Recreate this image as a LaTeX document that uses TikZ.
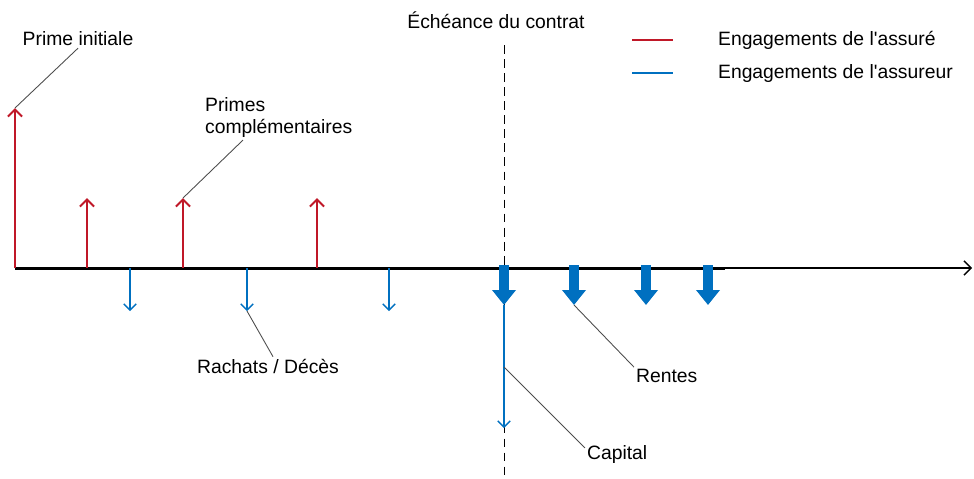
\documentclass[tikz,border=0pt]{standalone}
\usepackage{fontspec}
\setmainfont{Liberation Sans}[Ligatures=TeXOff]
\usetikzlibrary{arrows.meta,positioning}
\definecolor{assurered}{RGB}{192,24,40}
\definecolor{assureurblue}{RGB}{0,112,192}
\tikzset{
  lbl/.style={font=\fontsize{11}{13}\selectfont, inner sep=1pt},
  prime/.style={draw=assurered, line width=1.2pt, -{Straight Barb[length=4pt,width=8pt]}},
  rachat/.style={draw=assureurblue, line width=0.8pt, -{Straight Barb[length=3.5pt,width=7pt]}},
  rente/.style={draw=assureurblue, line width=0.2cm, -{Triangle[width=0.46cm,length=0.3cm]}},
  leader/.style={draw=black!70, line width=0.5pt}
}

\begin{document}
\begin{tikzpicture}[x=0.02cm, y=-0.02cm]
  \useasboundingbox (0,0) rectangle (974,478);
  % axe du temps
  \coordinate (o) at (15,268);
  \coordinate (mid) at (725,268);
  \coordinate (fin) at (972,268);
  \coordinate (dtop) at (504,45);
  \coordinate (dbot) at (504,478);
  \draw[dashed, dash pattern=on 5pt off 3pt, line width=0.5pt] (dtop) -- (dbot);
  \draw[line width=1.7pt] (o) -- (mid);
  \draw[line width=0.8pt, -{Straight Barb[length=4pt,width=8pt]}] (mid) -- (fin);

  % primes
  \coordinate (p0) at (15,268);   \coordinate (q0) at (15,108);
  \coordinate (p1) at (87,268);   \coordinate (q1) at (87,198);
  \coordinate (p2) at (183,268);  \coordinate (q2) at (183,198);
  \coordinate (p3) at (317,268);  \coordinate (q3) at (317,198);
  \draw[prime] (p0) -- (q0);
  \draw[prime] (p1) -- (q1);
  \draw[prime] (p2) -- (q2);
  \draw[prime] (p3) -- (q3);

  % rachats
  \coordinate (r1) at (130,268);  \coordinate (s1) at (130,311);
  \coordinate (r2) at (247,268);  \coordinate (s2) at (247,311);
  \coordinate (r3) at (389,268);  \coordinate (s3) at (389,311);
  \draw[rachat] (r1) -- (s1);
  \draw[rachat] (r2) -- (s2);
  \draw[rachat] (r3) -- (s3);

  % rentes et capital
  \coordinate (c0) at (504,265);  \coordinate (d0) at (504,305);
  \coordinate (c1) at (574,265);  \coordinate (d1) at (574,305);
  \coordinate (c2) at (646,265);  \coordinate (d2) at (646,305);
  \coordinate (c3) at (708,265);  \coordinate (d3) at (708,305);
  \coordinate (cap) at (504,428);
  \coordinate (capm) at (504,367);
  \draw[rachat] (d0) -- (cap);
  \draw[rente] (c0) -- (d0);
  \draw[rente] (c1) -- (d1);
  \draw[rente] (c2) -- (d2);
  \draw[rente] (c3) -- (d3);

  % textes
  \node[lbl] (pi) at (78,39) {Prime initiale};
  \node[lbl, align=left, anchor=north west] (pc) at (203,95) {Primes\\compl\'ementaires};
  \node[lbl] (rd) at (268,366) {Rachats / D\'ec\`es};
  \node[lbl, anchor=west] (rt) at (634,376) {Rentes};
  \node[lbl, anchor=west] (cp) at (585,454) {Capital};
  \node[lbl] (ech) at (496,20) {\'Ech\'eance du contrat};

  \draw[leader] (q0) -- (pi.south);
  \draw[leader] (q2) -- ([xshift=0.8cm]pc.south west);
  \draw[leader] (s2) -- ([xshift=0.1cm]rd.north);
  \draw[leader] (d1) -- (rt.north west);
  \draw[leader] (capm) -- ([yshift=-0.1cm]cp.north west);

  % legende
  \coordinate (la) at (632,40);  \coordinate (lb) at (673,40);
  \coordinate (lc) at (632,73);  \coordinate (ld) at (673,73);
  \draw[assurered, line width=0.8pt] (la) -- (lb);
  \draw[assureurblue, line width=0.8pt] (lc) -- (ld);
  \node[lbl, anchor=west] (leg1) at (716,40) {Engagements de l'assur\'e};
  \node[lbl, anchor=west] (leg2) at (716,73) {Engagements de l'assureur};
\end{tikzpicture}
\end{document}
